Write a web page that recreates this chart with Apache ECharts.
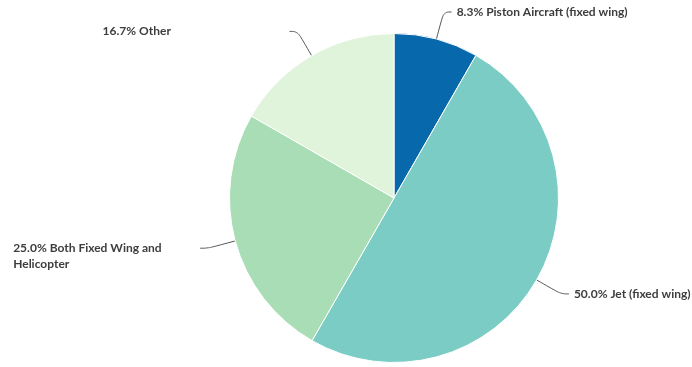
<!DOCTYPE html>
<html>
<head>
<meta charset="utf-8">
<script src="https://cdn.jsdelivr.net/npm/echarts@6/dist/echarts.min.js"></script>
<style>
  html, body { margin: 0; padding: 0; background: #ffffff; }
  #chart { width: 692px; height: 367px; }
</style>
</head>
<body>
<div id="chart"></div>
<script>
// Aircraft type shares (percent)
const categories = ['Piston Aircraft (fixed wing)', 'Jet (fixed wing)', 'Both Fixed Wing and Helicopter', 'Other'];
const shares = [8.3, 50.0, 25.0, 16.7];
const sliceColors = ['#0868ac', '#7bccc4', '#a8ddb5', '#e0f3db'];

// width of the wrapping label box
const LABEL_BOX = 182;
const LABEL_LINE_HEIGHT = 16;

const chart = echarts.init(document.getElementById('chart'), null, { renderer: 'canvas' });

chart.setOption({
  animation: false,
  color: sliceColors,
  series: [{
    type: 'pie',
    center: [394, 198],
    radius: 164.5,
    startAngle: 90,
    clockwise: true,
    avoidLabelOverlap: false,
    itemStyle: { borderColor: '#ffffff', borderWidth: 1 },
    emphasis: { disabled: true },
    label: {
      show: true,
      formatter: p => p.value.toFixed(1) + '% ' + p.name,
      width: LABEL_BOX,
      overflow: 'break',
      fontFamily: 'Lato',
      fontWeight: 'bold',
      fontSize: 12,
      lineHeight: LABEL_LINE_HEIGHT,
      color: '#3d3d3d'
    },
    labelLine: {
      show: true,
      length: 28,
      length2: 8,
      smooth: 0.4,
      lineStyle: { color: '#555555', width: 1 }
    },
    // keep each label's text left-aligned inside its box; left-side boxes end at the leader line
    labelLayout: function (p) {
      const r = p.labelRect;
      const out = {
        y: r.y + r.height / 2 - LABEL_LINE_HEIGHT / 2,
        verticalAlign: 'top',
        align: 'left',
        labelLinePoints: p.labelLinePoints
      };
      out.x = p.align === 'right' ? r.x + r.width - LABEL_BOX : r.x;
      return out;
    },
    data: categories.map((name, i) => ({ name: name, value: shares[i] }))
  }]
});
</script>
</body>
</html>
